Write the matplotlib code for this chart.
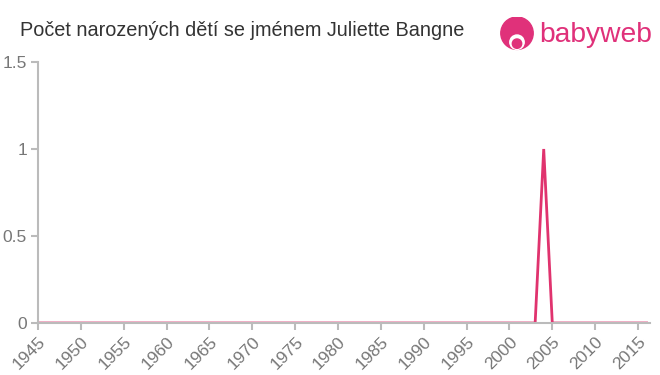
import matplotlib
matplotlib.use("Agg")
import matplotlib.pyplot as plt
from matplotlib.patches import Circle

years = list(range(1945, 2017))
counts = [0] * len(years)
counts[years.index(2004)] = 1

x_ticks = list(range(1945, 2016, 5))
y_ticks = [0, 0.5, 1, 1.5]
y_labels = ["0", "0.5", "1", "1.5"]
title = "Počet narozených dětí se jménem Juliette Bangne"

plt.rcParams['font.family'] = ['Liberation Sans', 'DejaVu Sans']

fig = plt.figure(figsize=(6.6, 3.75), dpi=100)
ax = fig.add_axes([38/660, 1 - 323/375, (650-38)/660, (323-62)/375])

ax.plot(years, counts, color="#e0336e", linewidth=2, solid_joinstyle="miter")
ax.set_xlim(1945, 2016.4)
ax.set_ylim(0, 1.5)
ax.set_xticks(x_ticks)
ax.set_xticklabels([str(t) for t in x_ticks], rotation=45, ha="right", rotation_mode="anchor")
ax.set_yticks(y_ticks)
ax.set_yticklabels(y_labels)
for s in ["top", "right"]:
    ax.spines[s].set_visible(False)
for s in ["left", "bottom"]:
    ax.spines[s].set_color("#bbbbbb")
    ax.spines[s].set_linewidth(1.5)
ax.tick_params(colors="#bbbbbb", labelcolor="#777777", labelsize=12.5, length=5, width=1.5)
ax.tick_params(axis="y", pad=3)
ax.tick_params(axis="x", pad=3)

fig.text(20/660, 1 - 30/375, title, fontsize=14.3, color="#333333", va="center", ha="left")

# logo
pink = "#e0317a"
fig.text(539/660, 1 - 35/375, "babyweb", fontsize=20.3, color=pink, va="center", ha="left")
lax = fig.add_axes([499/660, 1 - 53/375, 36/660, 36/375])
lax.set_xlim(0, 1)
lax.set_ylim(0, 1)
lax.set_aspect("equal")
lax.axis("off")
lax.add_patch(Circle((0.5, 0.55), 0.45, color=pink))
lax.add_patch(Circle((0.5, 0.3), 0.2, color="white"))
lax.add_patch(Circle((0.5, 0.26), 0.13, color=pink))

fig.savefig("out.png", dpi=100, facecolor="white")
